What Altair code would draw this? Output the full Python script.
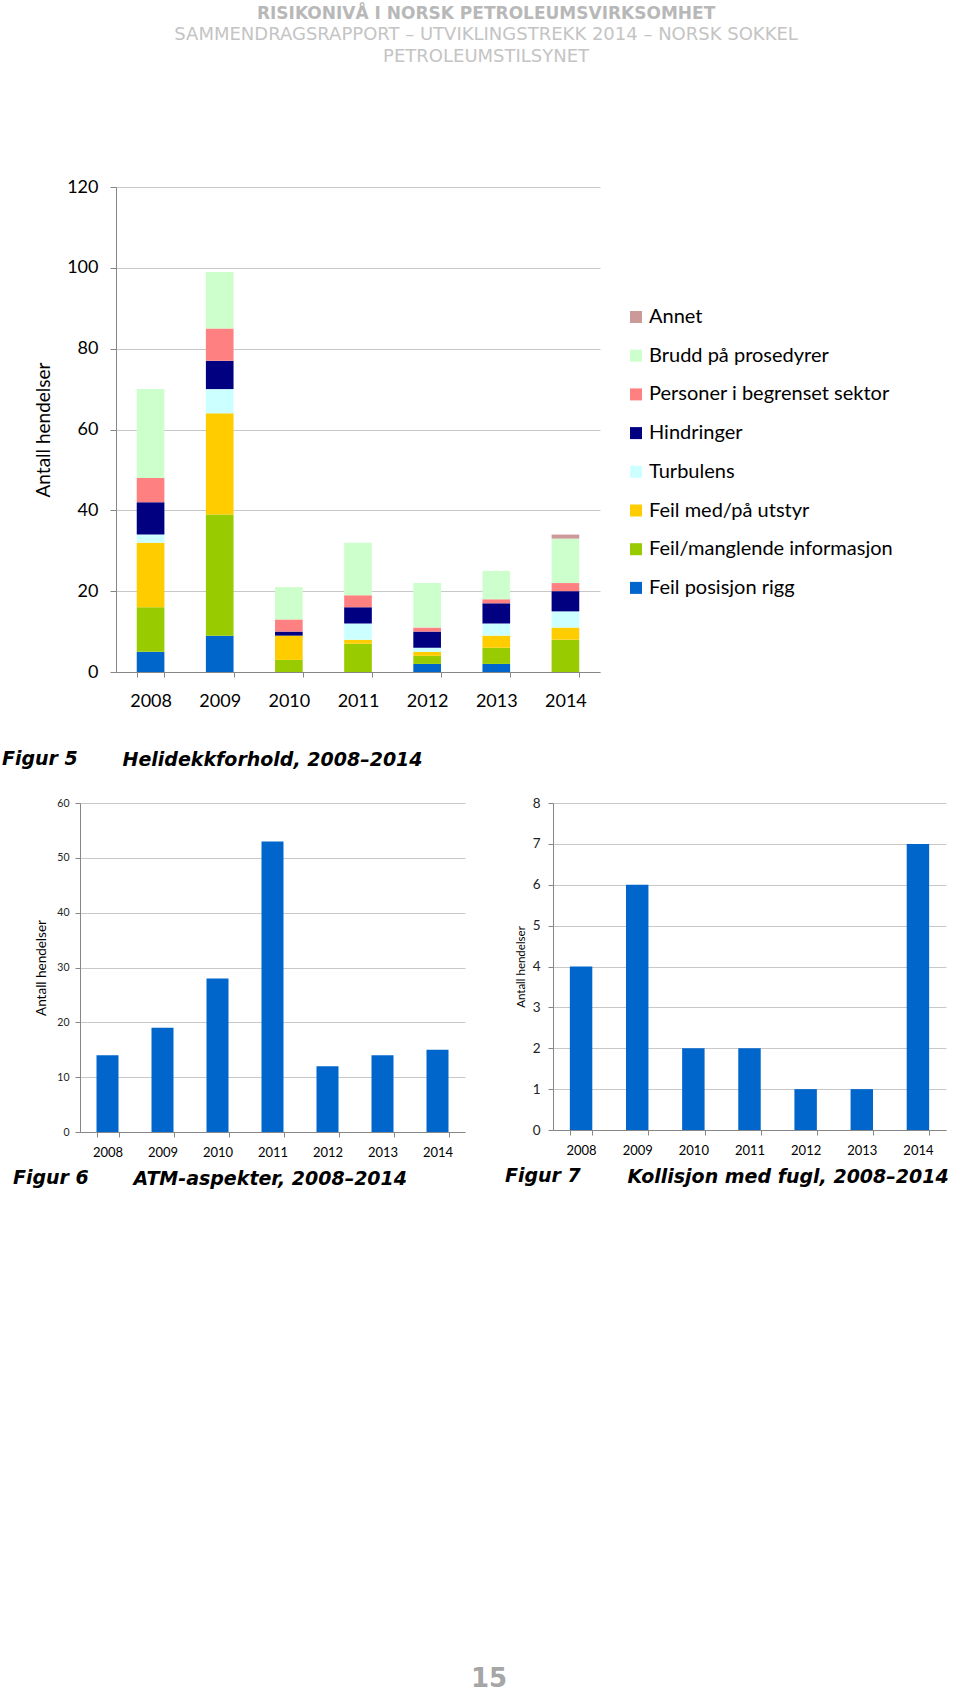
import altair as alt
import pandas as pd

# ---------------- data ----------------
years = ["2008", "2009", "2010", "2011", "2012", "2013", "2014"]

# stack order, bottom -> top
categories = [
    "Feil posisjon rigg",
    "Feil/manglende informasjon",
    "Feil med/på utstyr",
    "Turbulens",
    "Hindringer",
    "Personer i begrenset sektor",
    "Brudd på prosedyrer",
    "Annet",
]
feil_posisjon_rigg = [5, 9, 0, 0, 2, 2, 0]
feil_manglende_info = [11, 30, 3, 7, 2, 4, 8]
feil_utstyr = [16, 25, 6, 1, 1, 3, 3]
turbulens = [2, 6, 0, 4, 1, 3, 4]
hindringer = [8, 7, 1, 4, 4, 5, 5]
personer_sektor = [6, 8, 3, 3, 1, 1, 2]
brudd_prosedyrer = [22, 14, 8, 13, 11, 7, 11]
annet = [0, 0, 0, 0, 0, 0, 1]
series = [feil_posisjon_rigg, feil_manglende_info, feil_utstyr, turbulens,
          hindringer, personer_sektor, brudd_prosedyrer, annet]
cat_colors = ["#0066CC", "#99CC00", "#FFCC00", "#CCFFFF",
              "#000080", "#FF8080", "#CCFFCC", "#CC9999"]

atm_aspekter = [14, 19, 28, 53, 12, 14, 15]
kollisjon_fugl = [4, 6, 2, 2, 1, 1, 7]

header_line1 = "RISIKONIVÅ I NORSK PETROLEUMSVIRKSOMHET"
header_line2 = "SAMMENDRAGSRAPPORT – UTVIKLINGSTREKK 2014 – NORSK SOKKEL"
header_line3 = "PETROLEUMSTILSYNET"
page_number = "15"

# ---------------- tables ----------------
rows = []
for k, (cat, vals) in enumerate(zip(categories, series)):
    for y, v in zip(years, vals):
        rows.append({"år": y, "kategori": cat, "antall": v, "rekkefølge": k})
df1 = pd.DataFrame(rows)
df2 = pd.DataFrame({"år": years, "antall": atm_aspekter})
df3 = pd.DataFrame({"år": years, "antall": kollisjon_fugl})

FONT = "Lato"
CAP = "DejaVu Sans"
CAP_SIZE = 19
AXIS_GRAY = "#868686"
GRID_GRAY = "#c8c8c8"


def caption_axis(title, tx, ty, **kw):
    return dict(
        title=title, titleX=tx, titleY=ty, titleAlign="left", titleAnchor="start",
        titleBaseline="top", titleFont=CAP, titleFontSize=CAP_SIZE, titleFontWeight="bold",
        titleFontStyle="italic", titleColor="black",
        labelAngle=0, labelFont=FONT, labelColor="black",
        tickBand="extent", tickSize=5, domainColor=AXIS_GRAY, tickColor=AXIS_GRAY,
        grid=False, **kw)


def caption_title(text, dx):
    return alt.TitleParams(
        text=text, orient="bottom", anchor="start", frame="group", dx=dx,
        offset=-CAP_SIZE, font=CAP, fontSize=CAP_SIZE, fontWeight="bold",
        fontStyle="italic", color="black")


band = alt.Scale(paddingInner=0.6, paddingOuter=0.3)

# ---------------- figure 5 ----------------
chart1 = alt.Chart(df1).mark_bar().encode(
    x=alt.X("år:N", sort=years, scale=band,
            axis=alt.Axis(**caption_axis("Helidekkforhold, 2008–2014", 6, 78,
                                         labelFontSize=18, labelPadding=15))),
    y=alt.Y("antall:Q", stack="zero",
            scale=alt.Scale(domain=[0, 120], nice=False),
            axis=alt.Axis(values=[0, 20, 40, 60, 80, 100, 120], title="Antall hendelser",
                          titleFont=FONT, titleFontSize=19, titleFontWeight="normal",
                          titleColor="black", titlePadding=13,
                          labelFont=FONT, labelFontSize=18, labelColor="black",
                          labelPadding=12, tickSize=6, domainColor=AXIS_GRAY,
                          tickColor=AXIS_GRAY, grid=True, gridColor=GRID_GRAY,
                          gridWidth=1.2)),
    color=alt.Color("kategori:N",
                    scale=alt.Scale(domain=categories[::-1], range=cat_colors[::-1]),
                    legend=alt.Legend(title=None, orient="none", legendX=546, legendY=120,
                                      symbolType="square", symbolSize=144,
                                      symbolStrokeWidth=0, labelFont=FONT,
                                      labelFontSize=20, labelColor="black",
                                      labelLimit=400, rowPadding=18.7, labelOffset=3,
                                      padding=0)),
    order=alt.Order("rekkefølge:Q", sort="ascending"),
).properties(width=484, height=485, title=caption_title("Figur 5", -114))

# ---------------- figure 6 ----------------
chart2 = alt.Chart(df2).mark_bar(color="#0066CC").encode(
    x=alt.X("år:N", sort=years, scale=band,
            axis=alt.Axis(**caption_axis("ATM-aspekter, 2008–2014", 53, 37,
                                         labelFontSize=13, labelPadding=9))),
    y=alt.Y("antall:Q", scale=alt.Scale(domain=[0, 60], nice=False),
            axis=alt.Axis(values=[0, 10, 20, 30, 40, 50, 60], title="Antall hendelser",
                          titleFont=FONT, titleFontSize=13.5, titleFontWeight="normal",
                          titleColor="black", titlePadding=8,
                          labelFont=FONT, labelFontSize=10.5, labelColor="#222222",
                          labelPadding=6, tickSize=5, domainColor=AXIS_GRAY,
                          tickColor=AXIS_GRAY, grid=True, gridColor=GRID_GRAY,
                          gridWidth=1)),
).properties(width=385, height=329, title=caption_title("Figur 6", -67))

# ---------------- figure 7 ----------------
chart3 = alt.Chart(df3).mark_bar(color="#0066CC").encode(
    x=alt.X("år:N", sort=years, scale=band,
            axis=alt.Axis(**caption_axis("Kollisjon med fugl, 2008–2014", 74, 37,
                                         labelFontSize=13, labelPadding=9))),
    y=alt.Y("antall:Q", scale=alt.Scale(domain=[0, 8], nice=False),
            axis=alt.Axis(values=list(range(0, 9)), title="Antall hendelser",
                          titleFont=FONT, titleFontSize=11.5, titleFontWeight="normal",
                          titleColor="black", titlePadding=6,
                          labelFont=FONT, labelFontSize=13.5, labelColor="#222222",
                          labelPadding=8, tickSize=5, domainColor=AXIS_GRAY,
                          tickColor=AXIS_GRAY, grid=True, gridColor=GRID_GRAY,
                          gridWidth=1)),
).properties(width=393, height=327, title=caption_title("Figur 7", -48))


# an empty 1-px cell: the upper chart is placed after it, so the two rows
# can have their plot areas at different left positions
anchor_cell = alt.Chart(pd.DataFrame({"s": [0]})).mark_point(size=0, opacity=0).properties(
    width=1, height=1)

row1 = alt.hconcat(anchor_cell, chart1, spacing=-79)

row2 = alt.hconcat(
    chart2, chart3, spacing=40,
    title=alt.TitleParams(text=page_number, orient="bottom", anchor="middle", offset=478,
                          dx=8.5, font=CAP, fontSize=26, fontWeight="bold",
                          color="#a6a6a6"),
)

chart = alt.vconcat(
    row1, row2, spacing=27,
    title=alt.TitleParams(
        text=header_line1, subtitle=[header_line2, header_line3], anchor="middle",
        dx=11, offset=111, font=CAP, fontSize=17, fontWeight="bold", color="#b8b8b8",
        subtitleFont=CAP, subtitleFontSize=18, subtitleColor="#c4c4c4",
        subtitleLineHeight=22, subtitlePadding=3),
).properties(
    padding={"left": 2, "top": 5, "right": 0, "bottom": 0},
    background="white",
).configure_view(stroke=None)

chart.save("out.html", embed_options={"renderer": "svg", "actions": False})
